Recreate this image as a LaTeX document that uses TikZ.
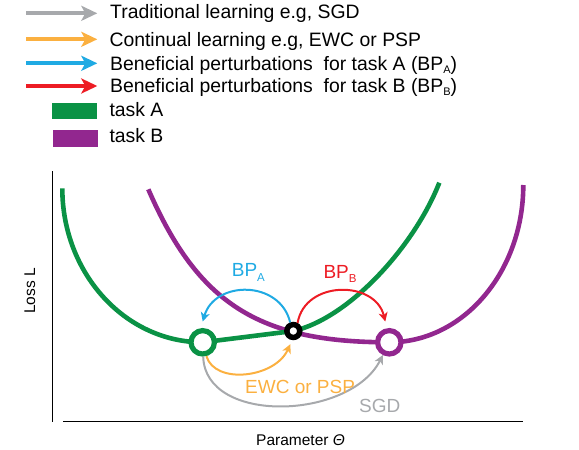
\documentclass[tikz,border=0pt]{standalone}
\usepackage{fontspec}
\setmainfont{Liberation Sans}
\usetikzlibrary{arrows.meta}
\definecolor{cgreen}{HTML}{0A9245}
\definecolor{cpurple}{HTML}{92278F}
\definecolor{cblue}{HTML}{1FAAE3}
\definecolor{cred}{HTML}{ED1C24}
\definecolor{corange}{HTML}{FBB040}
\definecolor{cgray}{HTML}{A7A9AC}
\tikzset{
  legarrow/.style={line width=4pt,-{Stealth[length=16pt,width=15pt,inset=4pt]}},
  plotarrow/.style={line width=2pt,-{Stealth[length=9pt,width=9pt,inset=2.5pt]}},
  lossline/.style={line width=4.6pt},
  optimum/.style={circle,draw,fill=white,line width=5.2pt,minimum size=23.4pt,inner sep=0pt},
  mixpt/.style={circle,draw=black,fill=white,line width=5.5pt,minimum size=12.9pt,inner sep=0pt},
  legtext/.style={anchor=base west,inner sep=0pt,font=\fontsize{19.4}{22}\selectfont},
  plottext/.style={anchor=base west,inner sep=0pt,font=\fontsize{19}{22}\selectfont},
  axtext/.style={anchor=base west,inner sep=0pt,font=\fontsize{15.5}{18}\selectfont},
  swatch/.style={inner sep=0pt,minimum width=44.5pt,minimum height=16.6pt},
  axis/.style={line width=1.2pt,black}
}
\newcommand{\legsub}[1]{\raisebox{-3pt}{\fontsize{11}{11}\selectfont #1}}
\newcommand{\plotsub}[1]{\raisebox{-4.5pt}{\fontsize{11.5}{11.5}\selectfont #1}}
\begin{document}
\begin{tikzpicture}[x=1pt,y=-1pt]
\useasboundingbox (0,0) rectangle (579,450);
% ---- legend ----
\coordinate (l1s) at (26,13.3);  \coordinate (l1e) at (97.3,13.3);
\coordinate (l2s) at (26,39.3);  \coordinate (l2e) at (97.3,39.3);
\coordinate (l3s) at (26,63.3);  \coordinate (l3e) at (97.3,63.3);
\coordinate (l4s) at (26,86);    \coordinate (l4e) at (97.3,86);
\draw[legarrow,cgray]   (l1s) -- (l1e);
\draw[legarrow,corange] (l2s) -- (l2e);
\draw[legarrow,cblue]   (l3s) -- (l3e);
\draw[legarrow,cred]    (l4s) -- (l4e);
\node[legtext] (t1) at (110,18.3) {Traditional learning e.g, SGD};
\node[legtext] (t2) at (109.3,46) {Continual learning e.g, EWC or PSP};
\node[legtext] (t3) at (110,70) {Beneficial perturbations\ \ for task A (BP\legsub{A})};
\node[legtext] (t4) at (110,92.7) {Beneficial perturbations\ \ for task B (BP\legsub{B})};
\node[swatch,fill=cgreen]  (sA) at (74.5,111) {};
\node[swatch,fill=cpurple] (sB) at (75.5,138.3) {};
\node[legtext] (t5) at (109.3,116) {task A};
\node[legtext] (t6) at (109.3,142.7) {task B};
% ---- axes ----
\coordinate (yt) at (52.3,171);   \coordinate (yb) at (52.3,422.3);
\coordinate (xl) at (63.3,421.7); \coordinate (xr) at (523.3,421.7);
\draw[axis] (yt) -- (yb);
\draw[axis] (xl) -- (xr);
\node[axtext] (xlab) at (256,445) {Parameter {\itshape Θ}};
\node[axtext,rotate=90] (ylab) at (35,314) {Loss L};
% ---- points (placed first so curves can reference them) ----
\coordinate (gac) at (202.7,342.3);
\coordinate (pbc) at (389.3,342.3);
\coordinate (bkc) at (293.3,331);
% ---- loss curves ----
\draw[lossline,cgreen] (62.3,188.3) .. controls (62.3,273.3) and (125.2,342.3) .. (gac);
\draw[lossline,cpurple] (148.3,189.3) .. controls (198.3,304.3) and (259.3,342.3) .. (pbc)
                        .. controls (463.3,342.3) and (523.3,271.8) .. (523.3,185);
\draw[lossline,cgreen] (gac) -- (bkc);
\draw[lossline,cgreen] (bkc) .. controls (350,318) and (415,245) .. (439.3,182.7);
% ---- point markers ----
\node[optimum,draw=cgreen]  (ga) at (gac) {};
\node[optimum,draw=cpurple] (pb) at (pbc) {};
\node[mixpt] (bk) at (bkc) {};
% ---- arrows ----
\draw[plotarrow,cblue] (bk.110) .. controls (280,280) and (215,280) .. ([yshift=6.5pt]ga.north);
\draw[plotarrow,cred] (bk.62) .. controls (305,280) and (375,280) .. ([yshift=6.5pt,xshift=-4pt]pb.north);
\draw[plotarrow,corange] (ga.-75) .. controls (215,385) and (275,378) .. ([shift={(-3pt,-4pt)}]bk.south);
\draw[plotarrow,cgray] (ga.-88) .. controls (205,425) and (350,420) .. (pb.-117);
% ---- labels ----
\node[plottext,text=cblue] (bpa) at (231.7,276.7) {BP\plotsub{A}};
\node[plottext,text=cred]  (bpb) at (323.3,278.3) {BP\plotsub{B}};
\node[plottext,text=corange] (ewc) at (245,393) {EWC or PSP};
\node[plottext,text=cgray] (sgd) at (359,412) {SGD};
\end{tikzpicture}
\end{document}
